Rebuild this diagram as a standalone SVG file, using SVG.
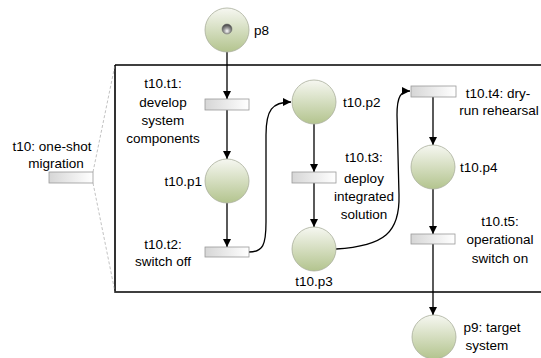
<svg xmlns="http://www.w3.org/2000/svg" width="541" height="358" viewBox="0 0 541 358">
<defs>
<linearGradient id="gp" x1="0" y1="0" x2="0" y2="1">
<stop offset="0" stop-color="#f6f7f1"/>
<stop offset="1" stop-color="#b3c48e"/>
</linearGradient>
<linearGradient id="gt" x1="0" y1="0" x2="1" y2="0">
<stop offset="0" stop-color="#d6d6d6"/>
<stop offset="1" stop-color="#ffffff"/>
</linearGradient>
<radialGradient id="gk" cx="0.5" cy="0.7" r="0.6">
<stop offset="0" stop-color="#ffffff"/>
<stop offset="0.5" stop-color="#9a9a9a"/>
<stop offset="1" stop-color="#505050"/>
</radialGradient>
<marker id="ah" viewBox="0 0 10 10" refX="10" refY="5" markerWidth="9" markerHeight="8" markerUnits="userSpaceOnUse" orient="auto">
<path d="M0,0 L10,5 L0,10 Z" fill="#000"/>
</marker>
<style>
.pl{fill:url(#gp);stroke:#a9ae9c;stroke-width:0.8}
.tr{fill:url(#gt);stroke:#999;stroke-width:0.8}
.ed{fill:none;stroke:#000;stroke-width:1.3;marker-end:url(#ah)}
.t{font-family:"Liberation Sans",Arial,sans-serif;font-size:13.5px;fill:#000}
.m{text-anchor:middle}
</style>
</defs>
<g id="frame">
<path d="M115,65 L541,65 M115,65 L115,292 L541,292" fill="none" stroke="#000" stroke-width="1.6"/>
<path d="M93,172 L115,65 M93,183 L115,292" fill="none" stroke="#999" stroke-width="0.6" stroke-dasharray="3,2"/>
</g>
<g id="connectors">
<path class="ed" d="M227,52 L227,99"/>
<path class="ed" d="M227,110 L227,159"/>
<path class="ed" d="M227,203 L227,247"/>
<path class="ed" d="M249,252 C263,252 266,245 266,222 L266,135 C266,110 272,102 291,102"/>
<path class="ed" d="M314,124 L314,172"/>
<path class="ed" d="M314,183 L314,227"/>
<path class="ed" d="M336,249 C385,246 400,232 399,195 L397,115 C397,96 401,91 410,91"/>
<path class="ed" d="M433,97 L433,145"/>
<path class="ed" d="M433,189 L433,234"/>
<path class="ed" d="M433,244 L433,315"/>
</g>
<g id="p8">
<circle class="pl" cx="227" cy="30" r="22"/>
<circle cx="227" cy="29" r="5" fill="url(#gk)" stroke="#666" stroke-width="0.5"/>
<text class="t" x="254" y="35">p8</text>
</g>
<g id="t10">
<rect class="tr" x="49" y="172" width="44" height="11"/>
<text class="t m" x="52" y="151">t10: one-shot</text>
<text class="t m" x="56" y="168">migration</text>
</g>
<g id="t10.t1">
<rect class="tr" x="205" y="99" width="44" height="11"/>
<text class="t m" x="163" y="88">t10.t1:</text>
<text class="t m" x="163" y="107">develop</text>
<text class="t m" x="163" y="125">system</text>
<text class="t m" x="163" y="143">components</text>
</g>
<g id="t10.p1">
<circle class="pl" cx="227" cy="181" r="22"/>
<text class="t" x="202" y="186" text-anchor="end">t10.p1</text>
</g>
<g id="t10.t2">
<rect class="tr" x="205" y="247" width="44" height="10"/>
<text class="t m" x="163" y="249">t10.t2:</text>
<text class="t m" x="163" y="266">switch off</text>
</g>
<g id="t10.p2">
<circle class="pl" cx="314" cy="102" r="22"/>
<text class="t" x="343" y="107">t10.p2</text>
</g>
<g id="t10.t3">
<rect class="tr" x="292" y="172" width="44" height="11"/>
<text class="t m" x="364" y="162">t10.t3:</text>
<text class="t m" x="364" y="183">deploy</text>
<text class="t m" x="364" y="201">integrated</text>
<text class="t m" x="364" y="219">solution</text>
</g>
<g id="t10.p3">
<circle class="pl" cx="314" cy="249" r="22"/>
<text class="t m" x="314" y="286">t10.p3</text>
</g>
<g id="t10.t4">
<rect class="tr" x="411" y="86" width="45" height="11"/>
<text class="t m" x="498" y="98">t10.t4: dry-</text>
<text class="t m" x="499" y="115">run rehearsal</text>
</g>
<g id="t10.p4">
<circle class="pl" cx="433" cy="167" r="22"/>
<text class="t" x="460" y="172">t10.p4</text>
</g>
<g id="t10.t5">
<rect class="tr" x="411" y="234" width="44" height="10"/>
<text class="t m" x="500" y="226">t10.t5:</text>
<text class="t m" x="500" y="244">operational</text>
<text class="t m" x="500" y="263">switch on</text>
</g>
<g id="p9">
<circle class="pl" cx="434" cy="337" r="22"/>
<text class="t m" x="492" y="332">p9: target</text>
<text class="t m" x="487" y="350">system</text>
</g>
</svg>
